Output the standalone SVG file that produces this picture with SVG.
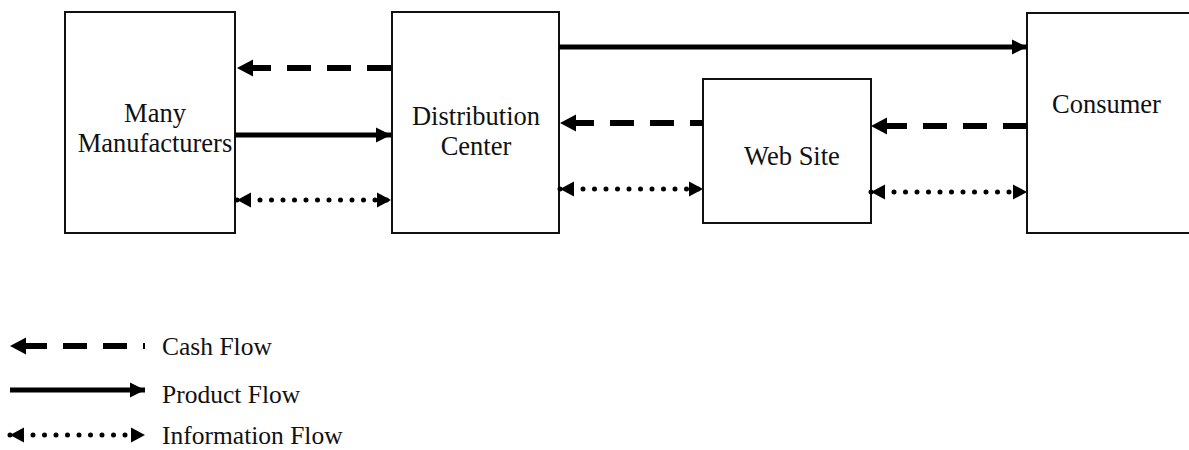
<svg xmlns="http://www.w3.org/2000/svg" width="1189" height="450" viewBox="0 0 1189 450">
  <style>
    .box { fill: #ffffff; stroke: #111111; stroke-width: 2; }
    .label { font-family: "Liberation Serif", "Times New Roman", serif; font-size: 26.5px; fill: #111111; }
    .key { font-size: 25.5px; }
    .mid { text-anchor: middle; }
    .cash { fill: none; stroke: #000000; stroke-width: 6; stroke-dasharray: 24 16; marker-end: url(#headCash); }
    .product { fill: none; stroke: #000000; stroke-width: 5; marker-end: url(#headProduct); }
    .info { fill: none; stroke: #000000; stroke-width: 5; stroke-linecap: round; stroke-dasharray: 0 11.5;
            marker-start: url(#headInfo); marker-end: url(#headInfo); }
  </style>
  <defs>
    <marker id="headCash" markerUnits="userSpaceOnUse" markerWidth="20" markerHeight="20" refX="16" refY="9" orient="auto" overflow="visible">
      <path d="M0,0.5 L16,9 L0,17.5 z" fill="#000000"/>
    </marker>
    <marker id="headProduct" markerUnits="userSpaceOnUse" markerWidth="20" markerHeight="20" refX="15" refY="7.5" orient="auto" overflow="visible">
      <path d="M0,0 L15,7.5 L0,15 z" fill="#000000"/>
    </marker>
    <marker id="headInfo" markerUnits="userSpaceOnUse" markerWidth="20" markerHeight="20" refX="14" refY="7.5" orient="auto-start-reverse" overflow="visible">
      <path d="M0,0 L14,7.5 L0,15 z" fill="#000000"/>
    </marker>
  </defs>

  <rect width="1189" height="450" fill="#ffffff"/>

  <!-- nodes -->
  <g id="manufacturers">
    <rect class="box" x="65" y="12" width="170" height="221"/>
    <text class="label mid" x="155" y="122">Many</text>
    <text class="label mid" x="155" y="152">Manufacturers</text>
  </g>
  <g id="distribution-center">
    <rect class="box" x="392" y="12" width="167" height="221"/>
    <text class="label mid" x="476" y="125">Distribution</text>
    <text class="label mid" x="476" y="155">Center</text>
  </g>
  <g id="web-site">
    <rect class="box" x="703" y="79" width="168" height="144"/>
    <text class="label mid" x="792" y="165">Web Site</text>
  </g>
  <g id="consumer">
    <rect class="box" x="1027" y="13" width="170" height="220"/>
    <text class="label" x="1052" y="113">Consumer</text>
  </g>

  <!-- connectors -->
  <g id="connectors">
    <!-- cash flows (right to left) -->
    <path class="cash" d="M391,68 L237,68"/>
    <path class="cash" d="M703,123 L560,123" style="stroke-dashoffset:11"/>
    <path class="cash" d="M1027,126 L871,126"/>
    <!-- product flows -->
    <path class="product" d="M235,135 L391,135"/>
    <path class="product" d="M559,47 L1027,47"/>
    <!-- information flows (two-way) -->
    <path class="info" d="M237,200 L391,200"/>
    <path class="info" d="M560,189 L703,189"/>
    <path class="info" d="M871,192 L1027,192"/>
  </g>

  <!-- legend -->
  <g id="legend">
    <path class="cash" d="M145,346 L10,346" style="stroke-dashoffset:22"/>
    <text class="label key" x="162" y="355">Cash Flow</text>
    <path class="product" d="M10,390 L145,390"/>
    <text class="label key" x="162" y="403">Product Flow</text>
    <path class="info" d="M10,435 L145,435"/>
    <text class="label key" x="162" y="444">Information Flow</text>
  </g>
</svg>
